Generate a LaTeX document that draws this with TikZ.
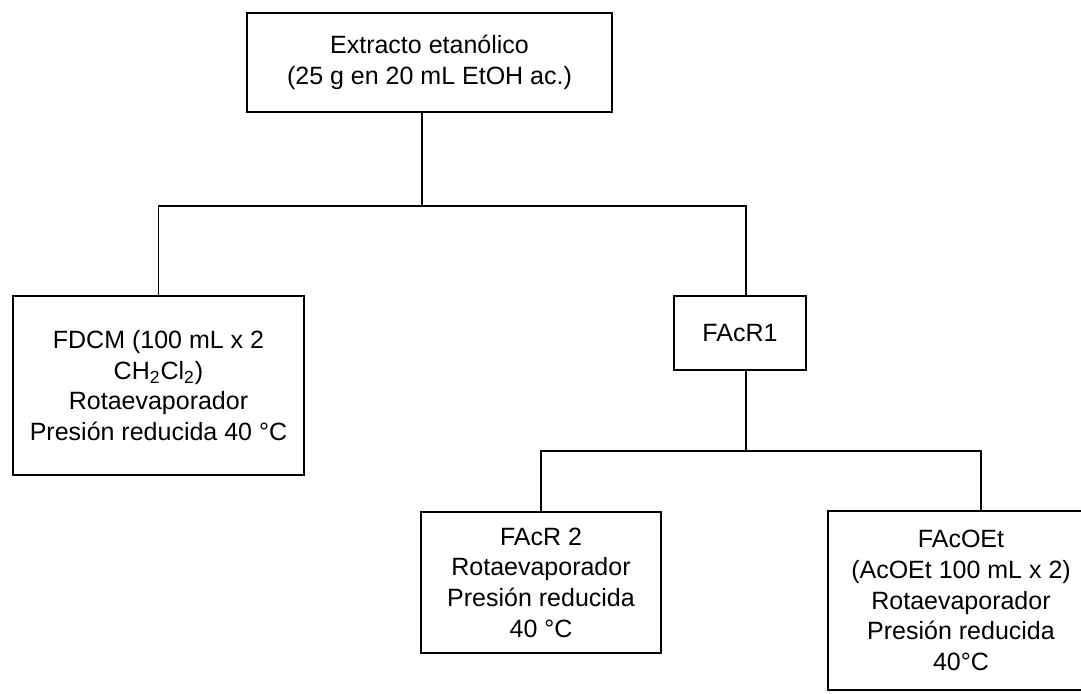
\documentclass[tikz,border=0pt]{standalone}
\usepackage{fontspec}
\setmainfont{Liberation Sans}
\usepackage{tikz}
\usetikzlibrary{positioning}
\tikzset{
  %Define style for boxes
  caja/.style={
    rectangle,
    draw=black, line width=1.1pt,
    align=center,
    inner sep=2pt,
    font=\fontsize{12.5}{15.3}\selectfont},
  % Define connector style
  conector/.style={
    draw=black,
    line width=0.9pt}
}

\begin{document}
\begin{tikzpicture}[x=0.5pt,y=-0.5pt]
  \useasboundingbox (0,0) rectangle (1081,694);
  \node[caja,minimum width=182.5pt,minimum height=49.5pt] (extracto) at (429.5,62.5)
    {Extracto etanólico\\(25 g en 20 mL EtOH ac.)};
  \node[caja,minimum width=145.5pt,minimum height=89.5pt] (fdcm) at (158.5,385.5)
    {FDCM (100 mL x 2\\CH\textsubscript{2}Cl\textsubscript{2})\\Rotaevaporador\\Presión reducida 40 °C};
  \node[caja,minimum width=66pt,minimum height=37pt] (facr1) at (740,333) {FAcR1};
  \node[caja,minimum width=120pt,minimum height=70.5pt] (facr2) at (541,582.5)
    {FAcR 2\\Rotaevaporador\\Presión reducida\\40 °C};
  \node[caja,minimum width=133pt,minimum height=89.5pt] (facoet) at (961,600.5)
    {FAcOEt\\(AcOEt 100 mL x 2)\\Rotaevaporador\\Presión reducida\\40°C};
  % branch points
  \coordinate (j1) at (422,206);
  \coordinate (j2) at (746,451);
  \coordinate (j3) at (981,451);
  \draw[conector] (extracto.south -| j1) -- (j1);
  \draw[conector] (fdcm.north) |- (j1) -| (facr1.north -| j2);
  \draw[conector] (facr1.south -| j2) -- (j2);
  \draw[conector] (facr2.north) |- (j2) -| (facoet.north -| j3);
\end{tikzpicture}
\end{document}
